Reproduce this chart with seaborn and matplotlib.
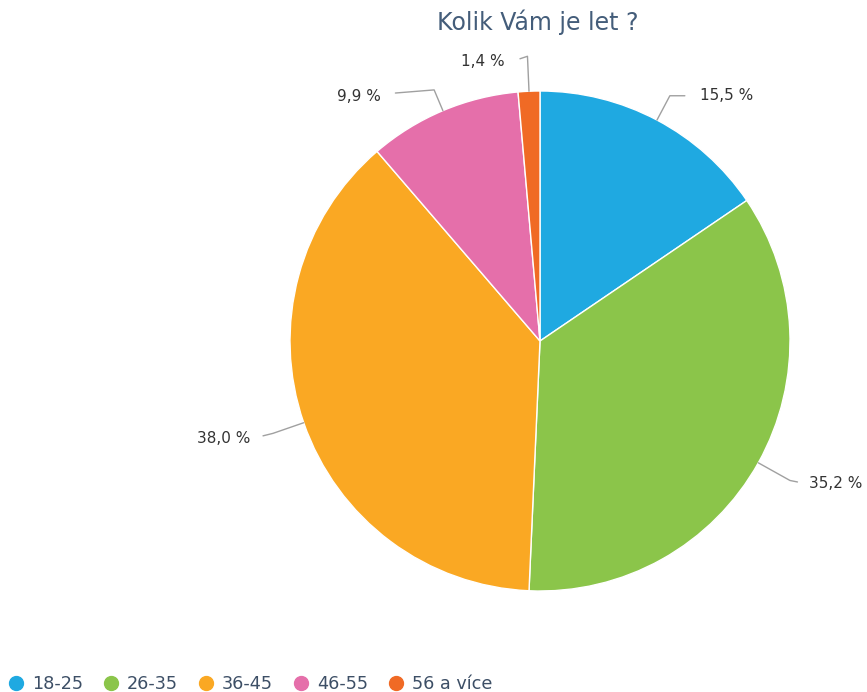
import numpy as np
import matplotlib
matplotlib.use('Agg')
import matplotlib.pyplot as plt
import seaborn as sns
from matplotlib.lines import Line2D

sns.set_theme(style='white')
plt.rcParams['font.family'] = ['DejaVu Sans']

categories = ['18-25', '26-35', '36-45', '46-55', '56 a více']
values = [15.5, 35.2, 38.0, 9.9, 1.4]
labels = ['15,5 %', '35,2 %', '38,0 %', '9,9 %', '1,4 %']
colors = ['#1fa9e1', '#8bc54a', '#faa823', '#e56faa', '#f06a25']

# leader line layout per label: bend radius, horizontal arm, gap to text, drop
bend_r = [1.11, 1.145, 1.13, 1.09, 1.14]
arm = [0.06, 0.03, 0.04, 0.155, 0.03]
gap = [0.06, 0.045, 0.05, 0.06, 0.06]
drop = [0.0, -0.012, -0.02, -0.025, -0.02]

fig = plt.figure(figsize=(8.67, 6.92), dpi=100)
ax = fig.add_axes([0, 0, 1, 1])

wedges, _ = ax.pie(values, colors=colors, startangle=90, counterclock=False,
                   radius=1.0, wedgeprops=dict(edgecolor='white', linewidth=1))

for w, lab, r, a, g, d in zip(wedges, labels, bend_r, arm, gap, drop):
    ang = np.deg2rad((w.theta1 + w.theta2) / 2)
    ex, ey = np.cos(ang), np.sin(ang)
    bx, by = r * ex, r * ey
    s = 1 if ex >= 0 else -1
    ax.plot([ex, bx, bx + s * a], [ey, by, by + d * 0.5], color='#a0a0a0', lw=1,
            clip_on=False)
    ax.text(bx + s * (a + g), by + d, lab, ha='left' if s > 0 else 'right',
            va='center', fontsize=11, color='#333333')

ax.set_xlim(-540 / 250, 327 / 250)
ax.set_ylim(-351 / 250, 341 / 250)
ax.axis('off')

fig.text(538 / 867, 1 - 22 / 692, 'Kolik Vám je let ?', ha='center', va='center',
         fontsize=17, color='#445d7a')

handles = [Line2D([0], [0], marker='o', linestyle='', markersize=10,
                  markerfacecolor=c, markeredgecolor=c) for c in colors]
fig.legend(handles, categories, loc='lower left', bbox_to_anchor=(-0.01, -0.025),
           ncol=5, frameon=False, fontsize=12.7, handletextpad=0.4,
           columnspacing=1.1, labelcolor='#3d4f66', handlelength=1.0)

fig.savefig('out.png', dpi=100)
